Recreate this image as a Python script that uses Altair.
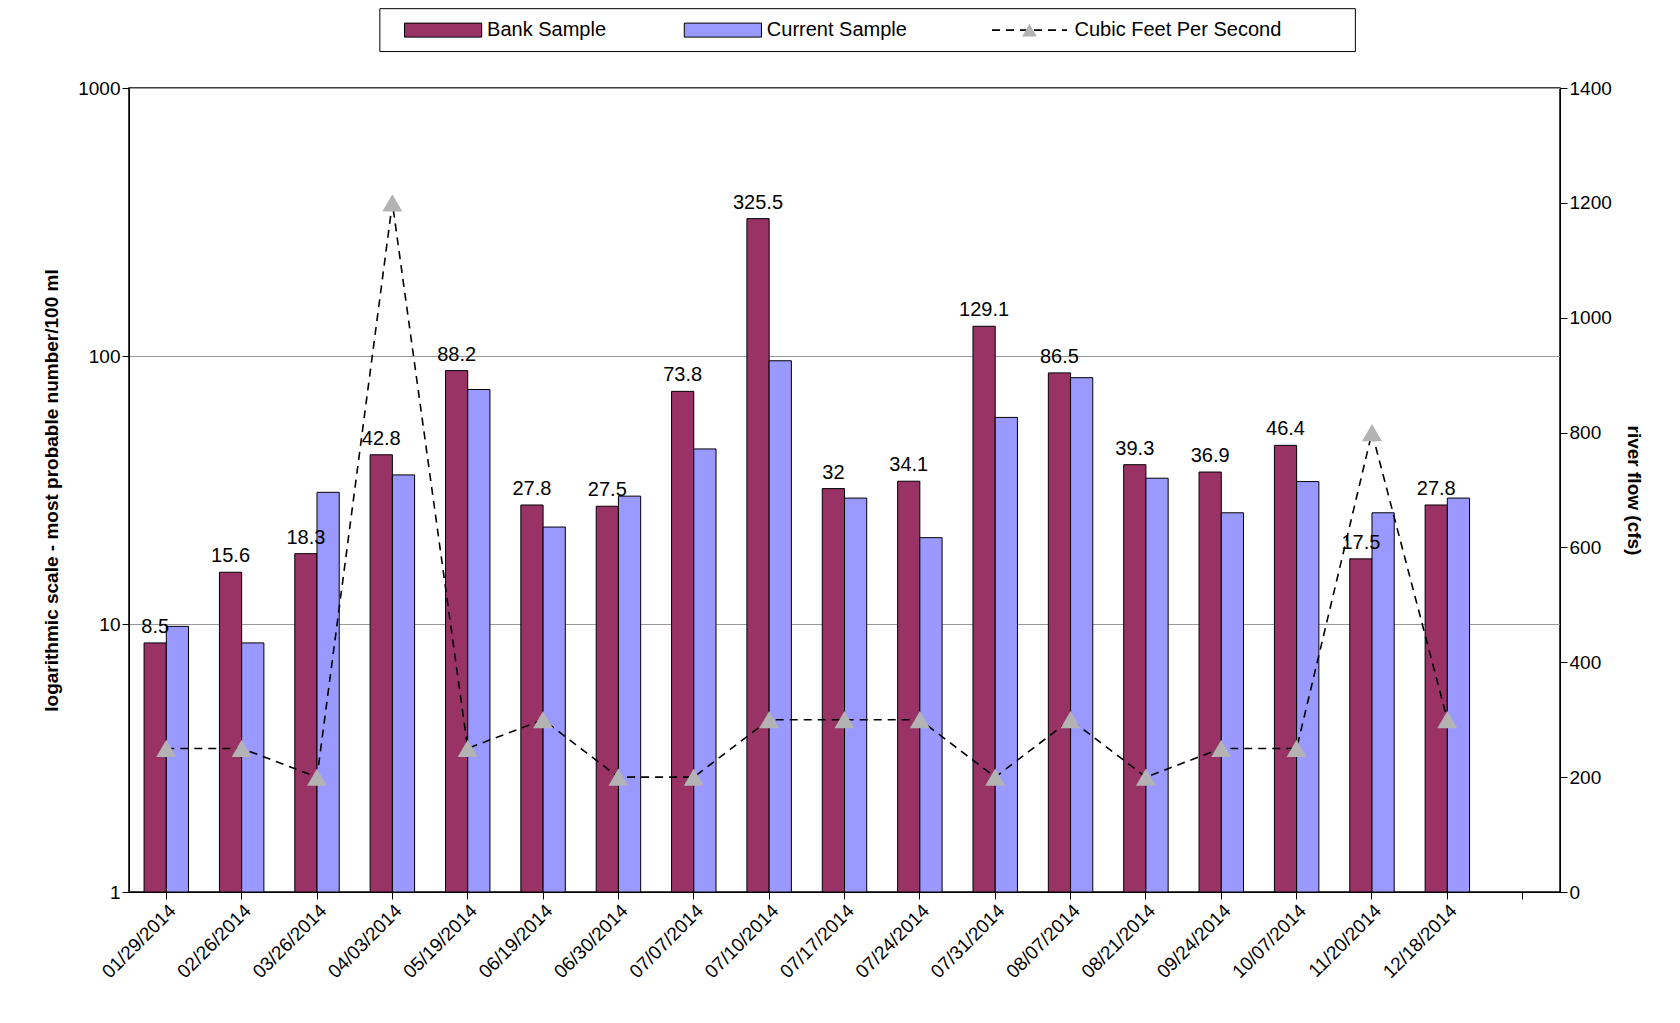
import altair as alt
import pandas as pd

dates = ["01/29/2014", "02/26/2014", "03/26/2014", "04/03/2014", "05/19/2014",
         "06/19/2014", "06/30/2014", "07/07/2014", "07/10/2014", "07/17/2014",
         "07/24/2014", "07/31/2014", "08/07/2014", "08/21/2014", "09/24/2014",
         "10/07/2014", "11/20/2014", "12/18/2014"]
bank = [8.5, 15.6, 18.3, 42.8, 88.2, 27.8, 27.5, 73.8, 325.5, 32, 34.1,
        129.1, 86.5, 39.3, 36.9, 46.4, 17.5, 27.8]
current = [9.8, 8.5, 31, 36, 75, 23, 30, 45, 96, 29.5, 21, 59, 83, 35, 26,
           34, 26, 29.5]
cfs = [250, 250, 200, 1200, 250, 300, 200, 200, 300, 300, 300, 200, 300,
       200, 250, 250, 800, 300]

FONT = "Liberation Sans"
FS = 19
S = 1.072
series = ["Bank Sample", "Current Sample"]
x_domain = dates + [" "]

bars_df = pd.DataFrame(
    [{"date": d, "series": "Bank Sample", "value": b} for d, b in zip(dates, bank)]
    + [{"date": d, "series": "Current Sample", "value": c} for d, c in zip(dates, current)]
)
bars_df["label"] = bars_df["value"].map(lambda v: f"{v:g}")
bars_df["base"] = 1
flow_df = pd.DataFrame({"date": dates, "cfs": cfs})

x_axis = alt.Axis(labelAngle=-45, labelFontSize=FS, labelFont=FONT, labelColor="black",
                  domainColor="black", tickColor="black", labelAlign="right",
                  labelBaseline="top", labelPadding=2)
x_scale = alt.Scale(domain=x_domain, paddingInner=0.41, paddingOuter=0.2)
x = alt.X("date:N", scale=x_scale, sort=None, title=None, axis=x_axis)
y = alt.Y("value:Q", scale=alt.Scale(type="log", domain=[1, 1000]),
          title="logarithmic scale - most probable number/100 ml",
          axis=alt.Axis(values=[1, 10, 100, 1000], format="d", gridColor="#999999",
                        labelFontSize=FS, labelFont=FONT, labelColor="black",
                        titleFontSize=FS, titleFont=FONT, titleFontWeight="bold",
                        titleColor="black", domainColor="black", tickColor="black",
                        titlePadding=16))
xoff = alt.XOffset("series:N", scale=alt.Scale(domain=series, paddingInner=0))

bars = alt.Chart(bars_df).mark_bar(stroke="black", strokeWidth=1).encode(
    x=x, y=y, y2="base:Q", xOffset=xoff,
    color=alt.Color("series:N", scale=alt.Scale(domain=series, range=["#993366", "#9999ff"]),
                    legend=None),
)
labels = alt.Chart(bars_df).transform_filter(alt.datum.series == "Bank Sample").mark_text(
    dy=-16, fontSize=FS + 1, font=FONT, color="black"
).encode(x=x, y=y, xOffset=xoff, text="label:N")

y2 = alt.Y("cfs:Q", scale=alt.Scale(domain=[0, 1400]), title="river flow (cfs)",
           axis=alt.Axis(orient="right", values=list(range(0, 1401, 200)), grid=False,
                         format="d",
                         labelFontSize=FS, labelFont=FONT, labelColor="black",
                         titleFontSize=FS, titleFont=FONT, titleFontWeight="bold",
                         titleColor="black", domainColor="black", tickColor="black",
                         titlePadding=12))
line = alt.Chart(flow_df).mark_line(color="black", strokeDash=[8, 6], strokeWidth=1.6).encode(x=x, y=y2)
pts = alt.Chart(flow_df).mark_point(shape="triangle-up", filled=True, size=400,
                                    color="#b3b3b3", opacity=1).encode(x=x, y=y2)

# legend drawn by hand above the plot
one = pd.DataFrame({"a": [0]})
ly = -54 * S
leg = [alt.Chart(one).mark_rect(fill="white", stroke="black").encode(
    x=alt.value(234 * S), x2=alt.value(1144 * S), y=alt.value(-74 * S), y2=alt.value(-34 * S))]
for name, x0, col in [("Bank Sample", 257, "#993366"), ("Current Sample", 518, "#9999ff")]:
    leg.append(alt.Chart(one).mark_rect(fill=col, stroke="black").encode(
        x=alt.value(x0 * S), x2=alt.value((x0 + 72) * S), y=alt.value(ly - 7), y2=alt.value(ly + 7)))
    leg.append(alt.Chart(one).mark_text(align="left", fontSize=FS + 1, font=FONT, color="black").encode(
        x=alt.value((x0 + 77) * S), y=alt.value(ly), text=alt.value(name)))
leg.append(alt.Chart(one).mark_rule(color="black", strokeDash=[8, 6], strokeWidth=1.6).encode(
    x=alt.value(805 * S), x2=alt.value(875 * S), y=alt.value(ly)))
leg.append(alt.Chart(one).mark_point(shape="triangle-up", filled=True, size=220,
                                     color="#b3b3b3", opacity=1).encode(
    x=alt.value(840 * S), y=alt.value(ly)))
leg.append(alt.Chart(one).mark_text(align="left", fontSize=FS + 1, font=FONT, color="black").encode(
    x=alt.value(882 * S), y=alt.value(ly), text=alt.value("Cubic Feet Per Second")))

left = alt.layer(bars, labels)
right = alt.layer(line, pts)
chart = alt.layer(left, right, *leg).resolve_scale(y="independent").properties(
    width=1431, height=804, background="white",
    padding={"left": 34, "top": 0, "right": 10, "bottom": 5}
).configure_view(stroke="black", strokeWidth=1.5).configure_axis(tickSize=7)

chart.save("out.html", embed_options={"renderer": "svg", "actions": False})
